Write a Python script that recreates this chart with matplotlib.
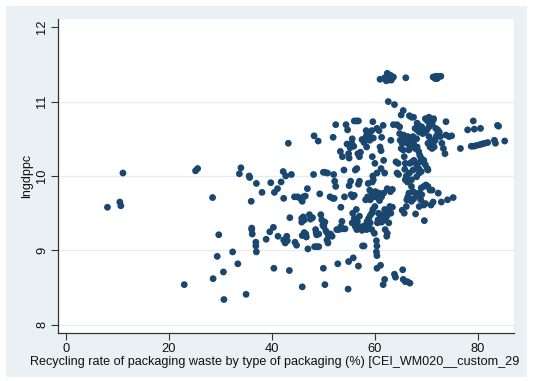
import matplotlib
matplotlib.use("Agg")
import matplotlib.pyplot as plt
from matplotlib.patches import Rectangle

# Recycling rate of packaging waste (%) vs log GDP per capita
recycling_rate = [
    8.1, 10.5, 10.7, 11.1,
    25.2, 25.6, 23.0, 28.5, 28.6, 29.7, 29.4, 30.6, 30.7, 32.4, 33.4, 35.0, 33.7, 34.0, 35.6, 35.7,
    36.0, 36.1, 36.2, 36.1, 36.9, 36.9, 37.0, 37.0, 38.1, 38.9, 39.6, 39.8, 40.3, 40.4, 40.5, 41.1,
    41.2, 41.8, 42.2, 42.3, 42.3, 42.6, 42.9, 43.0, 43.2, 42.7, 43.8, 43.5, 43.4, 44.4, 45.0, 45.5,
    46.1, 46.5, 44.5, 44.8, 45.8, 45.9, 45.8, 46.1, 46.3, 45.8, 45.9, 45.9, 46.3, 46.6, 46.7, 46.9,
    47.0, 47.3, 47.5, 47.9, 48.1, 48.2, 49.0, 48.5, 48.6, 49.1, 48.7, 48.3, 48.7, 49.1, 49.3, 49.5,
    49.7, 49.9, 50.3, 50.1, 50.0, 50.3, 50.8, 50.0, 50.3, 50.5, 50.8, 51.0, 51.4, 51.7, 50.9, 50.7,
    51.3, 51.8, 52.1, 51.9, 52.0, 52.2, 52.4, 52.4, 52.8, 52.6, 53.0, 53.7, 54.2, 53.4, 53.6, 53.4,
    53.3, 53.7, 54.4, 54.7, 54.6, 55.2, 54.9, 55.0, 54.0, 54.1, 55.0, 55.3, 54.9, 55.8, 54.8, 55.4,
    55.7, 56.0, 55.6, 55.5, 55.9, 56.0, 56.4, 56.8, 56.5, 56.2, 56.7, 57.0, 57.2, 56.8, 56.8, 57.0,
    56.4, 55.7, 56.0, 56.6, 57.0, 55.6, 56.2, 57.0, 57.6, 56.5, 57.9, 57.5, 58.4, 58.5, 58.8, 59.1,
    59.4, 59.6, 59.1, 58.7, 59.4, 59.9, 57.6, 57.9,
    57.5, 57.9, 58.3, 58.5, 58.3, 58.7, 59.1, 59.0, 59.7, 58.4, 59.4,
    58.6, 59.0, 58.2, 59.1, 59.4, 59.9, 60.4, 60.8, 60.1, 60.7, 60.9, 61.3, 61.7,
    58.7, 59.5, 59.7, 59.5, 59.6, 60.0, 59.6, 60.4,
    60.0, 60.7, 60.6, 61.0, 60.5, 61.1, 61.6, 61.9, 61.3, 62.0, 62.3, 62.7, 62.0, 62.4, 62.3,
    60.3, 60.4, 60.3, 60.4, 60.4, 61.1,
    61.3, 61.0, 61.2, 60.8, 60.4, 61.6, 61.9, 61.7, 61.2, 61.6, 61.9,
    61.0, 61.9, 62.4, 62.7, 63.1, 63.2, 63.6, 62.2, 62.8, 62.7, 66.0,
    62.6, 63.8, 63.1, 63.6, 64.3, 64.8,
    62.4, 63.0, 63.4, 62.9, 63.4, 63.1, 62.4,
    64.1, 64.5, 64.3, 64.6, 63.8, 64.0,
    64.8, 64.9, 65.3, 65.5, 65.7, 65.9, 65.8, 66.1, 65.1, 65.5,
    65.1, 65.8, 66.3, 66.6, 66.8, 67.1, 67.4, 67.5, 67.8, 68.1, 66.4, 65.6,
    65.4, 65.5, 65.9, 66.3, 66.8,
    65.3, 65.7, 66.1, 66.2, 66.4, 66.8, 66.6, 67.1, 67.5, 67.4, 67.8, 67.1, 66.3, 65.9, 66.7, 67.1,
    66.8, 67.2, 67.6, 67.4,
    66.7, 67.1, 67.5, 67.8, 68.2, 68.6, 68.5, 69.1, 68.2, 67.9,
    68.2, 68.5, 68.7, 69.0, 68.1, 68.5, 68.6, 69.0, 68.1, 68.8,
    68.2, 68.6, 68.9, 68.6, 69.5, 69.8, 69.1, 69.0, 69.5, 69.9, 70.3, 70.7, 71.1,
    69.5, 69.8, 70.2, 70.3,
    71.3, 71.8, 72.3, 72.8, 71.7, 72.1,
    69.3, 69.7, 70.1, 70.5, 70.5, 69.8, 70.2, 70.7, 71.1, 71.3, 71.4,
    70.5, 70.9, 71.3, 71.7, 71.9, 72.2, 72.2, 71.8, 72.5, 72.7, 73.0, 73.3, 73.6, 71.5, 71.1, 70.7, 70.3,
    69.6, 70.9, 71.3, 72.3, 72.9, 73.8, 73.8, 74.4, 74.9, 74.1, 75.2, 76.6, 78.0, 79.1,
    78.7, 79.2, 79.7, 80.3, 80.8, 81.3, 81.9, 79.3, 80.5, 83.2, 83.8, 84.0, 83.4, 85.2,
]

lngdppc = [
    9.58, 9.65, 9.60, 10.04,
    10.07, 10.10, 8.54, 9.71, 8.62, 9.21, 8.92, 8.71, 8.34, 8.98, 8.82, 8.41, 10.03, 10.11, 10.00, 9.98,
    9.66, 9.28, 9.22, 9.30, 9.11, 9.06, 8.98, 9.90, 9.78, 9.15, 9.25, 9.91, 9.31, 8.76, 9.78, 9.83,
    9.19, 9.92, 10.06, 9.70, 9.14, 9.10, 9.19, 9.13, 10.44, 10.00, 10.02, 9.44, 8.73, 9.72, 9.72, 9.70,
    9.72, 9.73, 9.11, 9.07, 9.69, 9.66, 9.43, 9.45, 9.41, 9.38, 8.51, 9.20, 9.24, 9.22, 9.18, 9.83,
    9.02, 9.48, 9.42, 9.44, 10.02, 10.54, 10.47, 9.28, 9.24, 9.22, 9.21, 9.05, 9.05, 9.05, 9.76, 9.48,
    9.41, 9.34, 9.38, 9.32, 10.05, 10.05, 10.04, 8.76, 8.54, 9.26, 9.23, 9.20, 9.22, 9.19, 9.10, 9.14,
    9.72, 9.70, 9.70, 10.52, 10.02, 9.93, 9.86, 10.69, 8.82, 9.28, 9.28, 9.29, 9.29, 9.58, 9.39, 9.32,
    10.33, 10.26, 10.69, 10.62, 10.43, 10.38, 10.30, 10.24, 10.08, 9.72, 9.87, 9.93, 8.85, 8.90, 8.48, 9.75,
    9.72, 9.74, 10.50, 10.44, 10.40, 10.74, 10.74, 10.74, 10.10, 10.08, 10.30, 10.26, 10.32, 8.79, 9.89, 9.93,
    9.55, 9.50, 9.43, 9.39, 9.46, 9.37, 9.32, 9.32, 9.30, 9.28, 9.33, 9.27, 9.28, 9.39, 9.43, 9.47,
    9.50, 9.55, 9.37, 9.32, 9.28, 9.23, 9.06, 9.06,
    10.49, 10.45, 10.53, 10.56, 10.61, 10.58, 10.53, 10.48, 10.51, 10.39, 10.61,
    9.72, 9.81, 9.68, 9.68, 9.74, 9.72, 9.72, 9.77, 9.79, 9.70, 9.67, 9.72, 9.77,
    9.90, 9.92, 9.95, 10.26, 10.00, 10.17, 10.73, 10.04,
    9.59, 9.50, 9.41, 9.43, 9.37, 9.46, 9.48, 9.55, 9.38, 9.41, 9.46, 9.37, 9.28, 9.23, 9.19,
    9.13, 9.06, 8.98, 8.93, 8.76, 8.80,
    10.52, 10.39, 10.34, 10.61, 10.64, 10.68, 10.04, 10.21, 10.10, 8.54, 8.61,
    11.30, 11.32, 11.38, 11.29, 11.35, 11.29, 11.33, 11.28, 11.33, 11.36, 11.32,
    11.00, 10.96, 10.48, 10.69, 10.69, 10.66,
    9.83, 9.79, 9.82, 9.59, 9.58, 9.50, 9.54,
    10.19, 10.17, 10.04, 10.02, 8.68, 8.64,
    10.57, 10.48, 10.44, 10.35, 10.26, 10.17, 10.09, 10.00, 10.82, 10.88,
    10.37, 10.48, 10.44, 10.35, 10.39, 10.48, 10.53, 10.44, 10.37, 10.50, 10.53, 10.55,
    8.74, 8.61, 8.58, 8.58, 8.56,
    9.54, 9.50, 9.59, 9.68, 9.72, 9.69, 9.77, 9.66, 9.69, 9.79, 9.77, 9.86, 9.92, 9.95, 10.04, 9.95,
    10.17, 10.19, 10.21, 10.08,
    10.81, 10.79, 10.79, 10.64, 10.62, 10.59, 10.68, 10.66, 10.71, 9.49,
    10.39, 10.33, 10.28, 10.24, 10.15, 10.10, 10.04, 10.06, 9.99, 10.19,
    9.73, 9.77, 9.68, 9.59, 9.61, 9.63, 9.75, 9.84, 9.86, 9.88, 9.86, 9.81, 9.81,
    10.21, 10.15, 10.10, 10.08,
    11.33, 11.34, 11.34, 11.34, 11.31, 11.31,
    10.57, 10.59, 10.62, 10.66, 10.79, 10.77, 10.74, 10.70, 10.70, 10.75, 10.77,
    10.53, 10.48, 10.44, 10.48, 10.53, 10.57, 10.62, 10.64, 10.59, 10.53, 10.44, 10.37, 10.30, 10.39, 10.37, 10.39, 10.44,
    9.40, 9.61, 9.65, 9.77, 9.65, 10.73, 10.55, 10.53, 10.54, 9.68, 9.71, 10.37, 10.62, 10.74,
    10.40, 10.40, 10.41, 10.42, 10.43, 10.44, 10.45, 10.63, 10.64, 10.48, 10.68, 10.67, 10.44, 10.47,
]

x_ticks = [0, 20, 40, 60, 80]
y_ticks = [8, 9, 10, 11, 12]
x_label = "Recycling rate of packaging waste by type of packaging (%) [CEI_WM020__custom_29"
y_label = "lngdppc"

FONT = ["Liberation Sans", "DejaVu Sans"]
plt.rcParams["font.family"] = FONT

W, H = 543, 381
fig = plt.figure(figsize=(W / 100, H / 100), dpi=100)
fig.patch.set_facecolor("white")

# Stata-style graph region band
fig.patches.append(Rectangle((6 / W, 4 / H), (527 - 6) / W, (375 - 4) / H,
                             transform=fig.transFigure, facecolor="#EAF1F4",
                             edgecolor="none", zorder=0))

ax = fig.add_axes([58 / W, (H - 333) / H, (514 - 58) / W, (333 - 19) / H])
ax.set_facecolor("white")
ax.set_zorder(1)

ax.scatter(recycling_rate, lngdppc, s=24, color="#1A476F", edgecolors="none", zorder=3)

ax.set_xlim(-1.5, 87.0)
ax.set_ylim(7.89, 12.11)
ax.set_xticks(x_ticks)
ax.set_yticks(y_ticks)
ax.set_yticklabels([str(v) for v in y_ticks], rotation=90, va="center")

for v in [8, 9, 10, 11]:
    ax.axhline(v, color="#E6ECEF", lw=0.9, zorder=1)

for side in ("top", "right"):
    ax.spines[side].set_visible(False)
for side in ("left", "bottom"):
    ax.spines[side].set_color("#333333")
    ax.spines[side].set_linewidth(0.9)

ax.tick_params(axis="both", direction="out", length=5, width=0.8, color="#333333",
               labelsize=9.3, labelcolor="#111111", pad=2)

ax.set_ylabel(y_label, fontsize=9.0, color="#111111")
ax.yaxis.set_label_coords(-0.054, 0.5)
fig.text(29.5 / W, (H - 362) / H, x_label, fontsize=9.1, color="#111111",
         ha="left", va="center")

fig.savefig("out.png", dpi=100, facecolor="white")
